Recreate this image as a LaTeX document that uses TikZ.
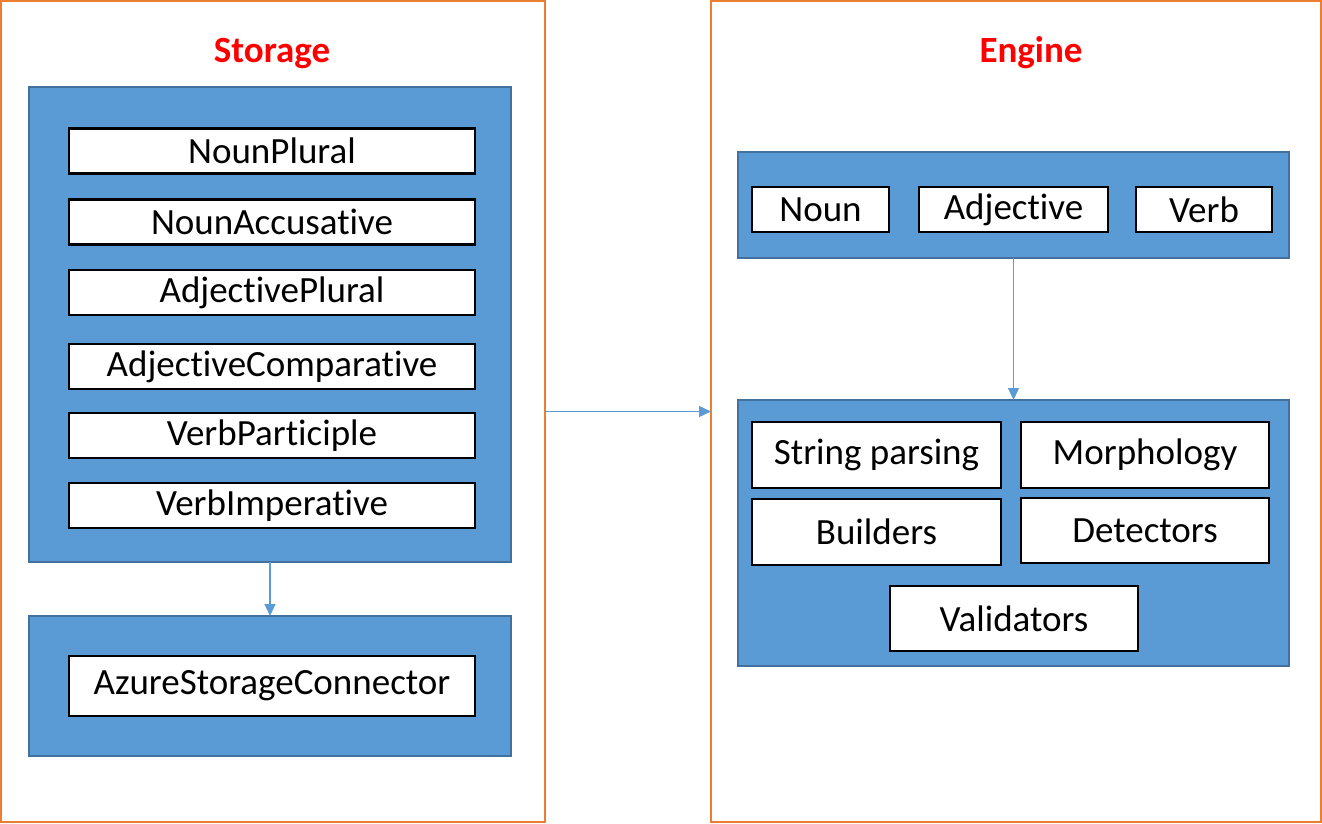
\documentclass[tikz,border=0pt]{standalone}
\usepackage{fontspec}
\setmainfont{Carlito}[Ligatures=NoCommon]
\usetikzlibrary{arrows.meta}
\definecolor{frameorange}{HTML}{ED7D31}
\definecolor{panelblue}{HTML}{5B9BD5}
\definecolor{paneledge}{HTML}{41719C}

\begin{document}
\begin{tikzpicture}[x=1pt,y=-1pt,
  frame/.style={draw=frameorange,line width=2pt,inner sep=0pt,outer sep=0pt},
  panel/.style={draw=paneledge,fill=panelblue,line width=2pt,inner sep=0pt,outer sep=0pt},
  item/.style={draw=black,fill=white,line width=2.5pt,inner sep=0pt,outer sep=0pt,font=\fontsize{37}{44}\selectfont},
  title/.style={text=red,font=\fontsize{37}{44}\selectfont\bfseries},
  link/.style={draw=panelblue,line width=1.3pt,-{Triangle[length=12pt,width=11pt]}}]

  \useasboundingbox (0,0) rectangle (1322,823);

  % storage side
  \node[frame,minimum width=544pt,minimum height=821pt] (storage) at (273,411.5) {};
  \node[title] (storagetitle) at (272,53) {Storage};
  \node[panel,minimum width=482pt,minimum height=475pt] (forms) at (270,324.5) {};
  \foreach \name/\y/\txt in {np/151/NounPlural,na/222/NounAccusative,ap/292.5/AdjectivePlural,
      ac/366.5/AdjectiveComparative,vp/435.5/VerbParticiple,vi/505.5/VerbImperative}
    \node[item,minimum width=406pt,minimum height=45pt] (\name) at (272,\y) {\txt};
  \node[panel,minimum width=482pt,minimum height=140pt] (connect) at (270,686) {};
  \node[item,minimum width=406pt,minimum height=60pt] (azure) at (272,686) {AzureStorageConnector};
  \draw[link] (forms.south) -- (connect.north);

  % engine side
  \node[frame,minimum width=610pt,minimum height=821pt] (engine) at (1016,411.5) {};
  \node[title] (enginetitle) at (1031,53) {Engine};
  \node[panel,minimum width=551pt,minimum height=106pt] (words) at (1013.5,205) {};
  \node[item,minimum width=137pt,minimum height=45pt] (noun) at (820.5,209.5) {Noun};
  \node[item,minimum width=189pt,minimum height=45pt] (adj) at (1013.5,209.5) {Adjective};
  \node[item,minimum width=136pt,minimum height=45pt] (verb) at (1204,209.5) {Verb};
  \node[panel,minimum width=551pt,minimum height=266pt] (tools) at (1013.5,533) {};
  \node[item,minimum width=249pt,minimum height=66pt] (parse) at (876.5,455) {String parsing};
  \node[item,minimum width=248pt,minimum height=66pt] (morph) at (1145,455) {Morphology};
  \node[item,minimum width=249pt,minimum height=66pt] (build) at (876.5,532) {Builders};
  \node[item,minimum width=248pt,minimum height=65pt] (detect) at (1145,530.5) {Detectors};
  \node[item,minimum width=248pt,minimum height=65pt] (valid) at (1014,618.5) {Validators};
  \draw[link] (words.south) -- (tools.north);

  \draw[link] (storage.east) -- (engine.west);

\end{tikzpicture}
\end{document}
